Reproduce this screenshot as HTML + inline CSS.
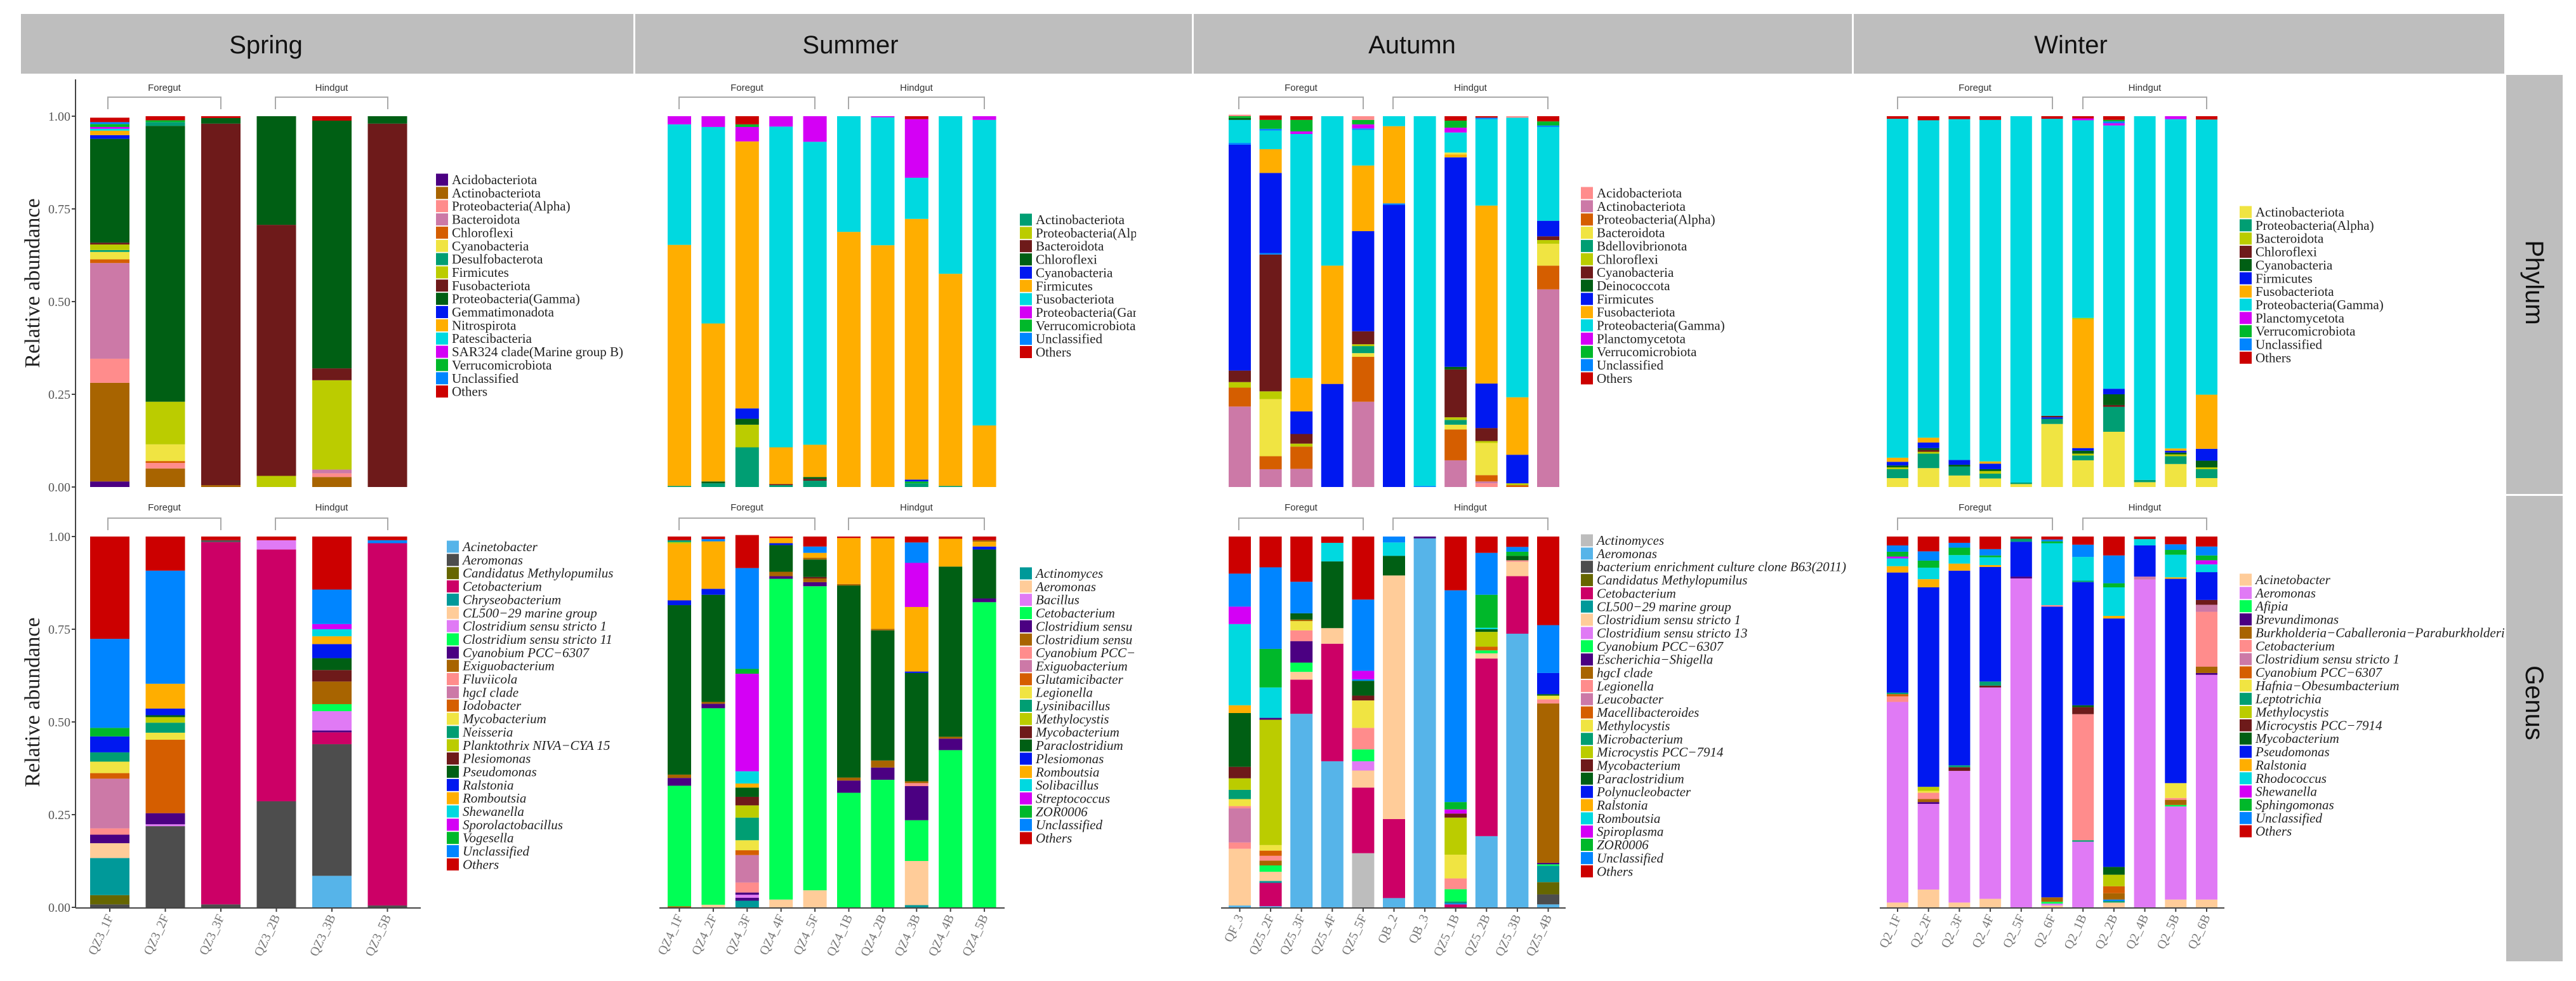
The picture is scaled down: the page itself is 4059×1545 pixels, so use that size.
<!DOCTYPE html>
<html><head><meta charset="utf-8"><style>
body{margin:0;background:#fff}
svg{display:block}
</style></head><body>
<svg id="c" width="4059" height="1545" viewBox="0 0 4059 1545" xmlns="http://www.w3.org/2000/svg">
<defs>
<clipPath id="clipSummer"><rect x="1590" y="0" width="200" height="1545"/></clipPath>
<clipPath id="clipWinter"><rect x="3500" y="0" width="446" height="1545"/></clipPath>
</defs>
<g>
<rect x="33" y="22" width="965" height="94" fill="#bebebe"/>
<text x="419" y="84" font-family="Liberation Sans, sans-serif" font-size="40" text-anchor="middle" fill="#111">Spring</text>
<rect x="1001" y="22" width="877" height="94" fill="#bebebe"/>
<text x="1340" y="84" font-family="Liberation Sans, sans-serif" font-size="40" text-anchor="middle" fill="#111">Summer</text>
<rect x="1881" y="22" width="1037" height="94" fill="#bebebe"/>
<text x="2225" y="84" font-family="Liberation Sans, sans-serif" font-size="40" text-anchor="middle" fill="#111">Autumn</text>
<rect x="2921" y="22" width="1025" height="94" fill="#bebebe"/>
<text x="3263" y="84" font-family="Liberation Sans, sans-serif" font-size="40" text-anchor="middle" fill="#111">Winter</text>
</g>
<g>
<rect x="3949" y="118" width="89" height="660" fill="#bebebe"/>
<text transform="translate(3980,445) rotate(90)" font-family="Liberation Sans, sans-serif" font-size="40" text-anchor="middle" fill="#111">Phylum</text>
<rect x="3949" y="781" width="89" height="733" fill="#bebebe"/>
<text transform="translate(3980,1107) rotate(90)" font-family="Liberation Sans, sans-serif" font-size="40" text-anchor="middle" fill="#111">Genus</text>
</g>
<g>
<line x1="119" y1="125" x2="119" y2="1430" stroke="#444" stroke-width="2"/>
<text transform="translate(62,446) rotate(-90)" font-family="Liberation Serif, serif" font-size="34" text-anchor="middle" fill="#222">Relative abundance</text>
<text transform="translate(62,1106) rotate(-90)" font-family="Liberation Serif, serif" font-size="34" text-anchor="middle" fill="#222">Relative abundance</text>
</g>
<g id="plot"></g>
</svg>
<script>
// ---------- tick data ----------
const tickValues = [0, 0.25, 0.5, 0.75, 1];
const tickLabels = ["0.00", "0.25", "0.50", "0.75", "1.00"];

// ---------- Spring ----------
const springSamples = ["QZ3_1F","QZ3_2F","QZ3_3F","QZ3_2B","QZ3_3B","QZ3_5B"];
const springPhylumTaxa = ["Acidobacteriota","Actinobacteriota","Proteobacteria(Alpha)","Bacteroidota","Chloroflexi","Cyanobacteria","Desulfobacterota","Firmicutes","Fusobacteriota","Proteobacteria(Gamma)","Gemmatimonadota","Nitrospirota","Patescibacteria","SAR324 clade(Marine group B)","Verrucomicrobiota","Unclassified","Others"];
const springPhylumColors = ["#4B0082","#A86400","#FF8C8C","#CC79A7","#D55E00","#F0E442","#009E73","#BBCC00","#6E1A1A","#005F14","#0018F0","#FFAE00","#00D9E0","#D400F5","#00B82A","#0085FF","#CC0000"];
const springPhylumBars = [
 [["Acido",.015],["Actino",.266],["Alpha",.065],["Bacteroid",.258],["Chloro",.01],["Cyano",.02],["Desulfo",.005],["Firm",.015],["Fuso",.005],["Gamma",.28],["Gemmat",.01],["Nitro",.012],["Pates",.005],["SAR",.005],["Verru",.008],["Unclass",.005],["Others",.012]],
 [["Actino",.05],["Alpha",.015],["Chloro",.005],["Cyano",.045],["Firm",.115],["Gamma",.744],["Desulfo",.01],["Verru",.005],["Others",.011]],
 [["Actino",.005],["Fuso",.975],["Gamma",.015],["Others",.005]],
 [["Firm",.03],["Fuso",.677],["Gamma",.293]],
 [["Actino",.027],["Alpha",.01],["Bacteroid",.01],["Firm",.241],["Fuso",.032],["Gamma",.668],["Others",.012]],
 [["Fuso",.98],["Gamma",.02]]
];
const springGenusTaxa = ["Acinetobacter","Aeromonas","Candidatus Methylopumilus","Cetobacterium","Chryseobacterium","CL500\u221229 marine group","Clostridium sensu stricto 1","Clostridium sensu stricto 11","Cyanobium PCC\u22126307","Exiguobacterium","Fluviicola","hgcI clade","Iodobacter","Mycobacterium","Neisseria","Planktothrix NIVA\u2212CYA 15","Plesiomonas","Pseudomonas","Ralstonia","Romboutsia","Shewanella","Sporolactobacillus","Vogesella","Unclassified","Others"];
const springGenusColors = ["#56B4E9","#4D4D4D","#666600","#CC0066","#009999","#FFCC99","#E07AF5","#00FF55","#4B0082","#A86400","#FF8C8C","#CC79A7","#D55E00","#F0E442","#009E73","#BBCC00","#6E1A1A","#005F14","#0018F0","#FFAE00","#00D9E0","#D400F5","#00B82A","#0085FF","#CC0000"];
const springGenusBars = [
 [["Aero",.008],["Candidatus",.025],["Chryseo",.1],["CL500",.04],["Cyanob",.023],["Fluvi",.017],["hgcI",.134],["Iodo",.015],["Myco",.031],["Neisseria",.025],["Ralst",.043],["Voges",.023],["Unclass",.24],["Others",.276]],
 [["Aero",.219],["stricto 1",.005],["Cyanob",.03],["Iodo",.198],["Myco",.019],["Neisseria",.027],["Plankto",.015],["Pseudo",.005],["Ralst",.018],["Romb",.067],["Unclass",.305],["Others",.092]],
 [["Aero",.008],["Ceto",.977],["Aero",.005],["Others",.01]],
 [["Aero",.286],["Ceto",.679],["stricto 1",.025],["Others",.01]],
 [["Acin",.085],["Aero",.355],["Ceto",.032],["Cyanob",.005],["stricto 1",.052],["stricto 11",.019],["Exiguo",.061],["Plesio",.031],["Pseudo",.032],["Ralst",.038],["Romb",.021],["Shewan",.019],["Sporo",.014],["Unclass",.093],["Others",.143]],
 [["Aero",.005],["Ceto",.977],["Unclass",.008],["Others",.01]]
];

// ---------- Summer ----------
const summerSamples = ["QZ4_1F","QZ4_2F","QZ4_3F","QZ4_4F","QZ4_5F","QZ4_1B","QZ4_2B","QZ4_3B","QZ4_4B","QZ4_5B"];
const summerPhylumTaxa = ["Actinobacteriota","Proteobacteria(Alpha)","Bacteroidota","Chloroflexi","Cyanobacteria","Firmicutes","Fusobacteriota","Proteobacteria(Gamma)","Verrucomicrobiota","Unclassified","Others"];
const summerPhylumColors = ["#009E73","#BBCC00","#6E1A1A","#005F14","#0018F0","#FFAE00","#00D9E0","#D400F5","#00B82A","#0085FF","#CC0000"];
const summerPhylumBars = [
 [["Actino",.003],["Firm",.65],["Fuso",.325],["Gamma",.022]],
 [["Actino",.01],["Chloro",.005],["Firm",.426],["Fuso",.53],["Gamma",.029]],
 [["Actino",.107],["Alpha",.061],["Chloro",.016],["Cyano",.028],["Firm",.72],["Gamma",.039],["Verru",.007],["Others",.022]],
 [["Actino",.005],["Bacteroid",.003],["Firm",.099],["Fuso",.865],["Gamma",.028]],
 [["Actino",.017],["Bacteroid",.005],["Chloro",.005],["Firm",.087],["Fuso",.817],["Gamma",.069]],
 [["Firm",.688],["Fuso",.312]],
 [["Firm",.652],["Fuso",.345],["Gamma",.003]],
 [["Actino",.01],["Verru",.005],["Cyano",.005],["Firm",.703],["Fuso",.111],["Gamma",.158],["Others",.008]],
 [["Actino",.003],["Firm",.572],["Fuso",.425]],
 [["Firm",.166],["Fuso",.824],["Gamma",.01]]
];
const summerGenusTaxa = ["Actinomyces","Aeromonas","Bacillus","Cetobacterium","Clostridium sensu stricto 1","Clostridium sensu stricto 13","Cyanobium PCC\u22126307","Exiguobacterium","Glutamicibacter","Legionella","Lysinibacillus","Methylocystis","Mycobacterium","Paraclostridium","Plesiomonas","Romboutsia","Solibacillus","Streptococcus","ZOR0006","Unclassified","Others"];
const summerGenusColors = ["#009999","#FFCC99","#E07AF5","#00FF55","#4B0082","#A86400","#FF8C8C","#CC79A7","#D55E00","#F0E442","#009E73","#BBCC00","#6E1A1A","#005F14","#0018F0","#FFAE00","#00D9E0","#D400F5","#00B82A","#0085FF","#CC0000"];
const summerGenusBars = [
 [["stricto 13",.003],["Ceto",.325],["stricto 1",.021],["stricto 13",.009],["Paraclo",.457],["Plesio",.013],["Romb",.153],["Methylocystis",.004],["Lysini",.005],["Others",.01]],
 [["Aero",.007],["Ceto",.53],["stricto 1",.012],["stricto 13",.005],["Paraclo",.289],["Plesio",.016],["Romb",.128],["Unclass",.006],["Others",.007]],
 [["Actinomyces",.018],["stricto 1",.008],["Bacillus",.008],["stricto 1",.006],["Cyanob",.027],["Exiguo",.074],["Glutam",.013],["Legion",.027],["Lysini",.061],["Methylocystis",.033],["Myco",.023],["Paraclo",.025],["Romb",.011],["Solibac",.033],["Strepto",.263],["ZOR",.013],["Unclass",.272],["Others",.089]],
 [["Aero",.021],["Ceto",.865],["stricto 1",.007],["stricto 13",.012],["Paraclo",.072],["Plesio",.005],["Romb",.014],["Others",.004]],
 [["Aero",.046],["Ceto",.82],["stricto 1",.011],["stricto 13",.01],["Myco",.004],["Paraclo",.047],["stricto 13",.005],["Romb",.013],["Unclass",.017],["Others",.027]],
 [["Ceto",.309],["stricto 1",.033],["stricto 13",.008],["Paraclo",.518],["stricto 13",.004],["Romb",.124],["Others",.004]],
 [["Ceto",.344],["stricto 1",.033],["stricto 13",.019],["Paraclo",.351],["stricto 13",.004],["Romb",.244],["Others",.005]],
 [["Actinomyces",.006],["Aero",.119],["Ceto",.11],["stricto 1",.092],["Cyanob",.008],["stricto 13",.005],["Paraclo",.292],["Plesio",.004],["Romb",.174],["Strepto",.119],["Unclass",.055],["Others",.016]],
 [["Ceto",.424],["stricto 1",.031],["stricto 13",.005],["Paraclo",.459],["Romb",.075],["Others",.006]],
 [["Ceto",.823],["stricto 1",.01],["Paraclo",.132],["Plesio",.008],["Romb",.013],["stricto 13",.004],["Others",.01]]
];

// ---------- Autumn ----------
const autumnSamples = ["QF_3","QZ5_2F","QZ5_3F","QZ5_4F","QZ5_5F","QB_2","QB_3","QZ5_1B","QZ5_2B","QZ5_3B","QZ5_4B"];
const autumnPhylumTaxa = ["Acidobacteriota","Actinobacteriota","Proteobacteria(Alpha)","Bacteroidota","Bdellovibrionota","Chloroflexi","Cyanobacteria","Deinococcota","Firmicutes","Fusobacteriota","Proteobacteria(Gamma)","Planctomycetota","Verrucomicrobiota","Unclassified","Others"];
const autumnPhylumColors = ["#FF8C8C","#CC79A7","#D55E00","#F0E442","#009E73","#BBCC00","#6E1A1A","#005F14","#0018F0","#FFAE00","#00D9E0","#D400F5","#00B82A","#0085FF","#CC0000"];
const autumnPhylumBars = [
 [["Actino",.217],["Alpha",.051],["Chloro",.015],["Cyano",.031],["Firm",.609],["Unclass",.005],["Gamma",.062],["Deino",.005],["Verru",.005],["Acido",.004]],
 [["Actino",.048],["Alpha",.035],["Bacteroid",.154],["Chloro",.021],["Cyano",.369],["Unclass",.004],["Firm",.216],["Fuso",.064],["Gamma",.05],["Unclass",.005],["Verru",.024],["Others",.012]],
 [["Actino",.049],["Alpha",.06],["Chloro",.008],["Cyano",.026],["Firm",.061],["Fuso",.09],["Gamma",.658],["Plancto",.007],["Verru",.031],["Others",.01]],
 [["Firm",.278],["Fuso",.319],["Gamma",.403]],
 [["Actino",.23],["Alpha",.121],["Bacteroid",.01],["Bdello",.019],["Chloro",.005],["Cyano",.035],["Firm",.27],["Fuso",.177],["Gamma",.096],["Unclass",.004],["Plancto",.011],["Verru",.012],["Acido",.01]],
 [["Firm",.761],["Unclass",.004],["Fuso",.208],["Gamma",.027]],
 [["Unclass",.003],["Gamma",.997]],
 [["Actino",.072],["Alpha",.083],["Bacteroid",.013],["Bdello",.013],["Chloro",.007],["Cyano",.129],["Deino",.007],["Firm",.565],["Fuso",.008],["Bacteroid",.005],["Gamma",.054],["Plancto",.013],["Verru",.019],["Others",.012]],
 [["Acido",.01],["Actino",.005],["Alpha",.017],["Bacteroid",.087],["Chloro",.005],["Cyano",.035],["Firm",.12],["Fuso",.48],["Gamma",.233],["Unclass",.004],["Others",.004]],
 [["Alpha",.005],["Chloro",.005],["Firm",.077],["Fuso",.155],["Gamma",.754],["Acido",.004]],
 [["Actino",.533],["Alpha",.064],["Bacteroid",.059],["Chloro",.01],["Cyano",.01],["Firm",.042],["Gamma",.253],["Unclass",.004],["Verru",.011],["Others",.014]]
];
const autumnGenusTaxa = ["Actinomyces","Aeromonas","bacterium enrichment culture clone B63(2011)","Candidatus Methylopumilus","Cetobacterium","CL500\u221229 marine group","Clostridium sensu stricto 1","Clostridium sensu stricto 13","Cyanobium PCC\u22126307","Escherichia\u2212Shigella","hgcI clade","Legionella","Leucobacter","Macellibacteroides","Methylocystis","Microbacterium","Microcystis PCC\u22127914","Mycobacterium","Paraclostridium","Polynucleobacter","Ralstonia","Romboutsia","Spiroplasma","ZOR0006","Unclassified","Others"];
const autumnGenusColors = ["#BDBDBD","#56B4E9","#4D4D4D","#666600","#CC0066","#009999","#FFCC99","#E07AF5","#00FF55","#4B0082","#A86400","#FF8C8C","#CC79A7","#D55E00","#F0E442","#009E73","#BBCC00","#6E1A1A","#005F14","#0018F0","#FFAE00","#00D9E0","#D400F5","#00B82A","#0085FF","#CC0000"];
const autumnGenusBars = [
 [["Aero",.005],["stricto 1",.153],["Legion",.017],["Leuco",.092],["Legion",.006],["Methylocystis",.019],["Microbact",.025],["Microcys",.031],["Myco",.031],["Paraclo",.145],["Ralst",.021],["Romb",.219],["Spiro",.047],["Unclass",.089],["Others",.1]],
 [["Aero",.003],["Ceto",.063],["CL500",.005],["stricto 1",.025],["Cyanob",.017],["hgcI",.013],["Legion",.013],["Macell",.014],["Methylocystis",.015],["Microcys",.338],["Escher",.005],["Romb",.082],["ZOR",.104],["Unclass",.22],["Others",.083]],
 [["Aero",.522],["Ceto",.092],["stricto 1",.021],["Cyanob",.025],["Escher",.058],["Legion",.029],["Methylocystis",.025],["hgcI",.004],["Paraclo",.017],["Unclass",.085],["Others",.122]],
 [["Aero",.394],["Ceto",.317],["stricto 1",.042],["Paraclo",.18],["Romb",.05],["Others",.017]],
 [["Actinomyces",.146],["Ceto",.177],["stricto 1",.046],["stricto 13",.025],["Cyanob",.032],["Legion",.058],["Methylocystis",.074],["Myco",.013],["Paraclo",.04],["Unclass",.004],["Spiro",.023],["Unclass",.192],["Others",.17]],
 [["Aero",.025],["Ceto",.213],["stricto 1",.657],["Paraclo",.053],["Romb",.036],["Unclass",.016]],
 [["Aero",.995],["Escher",.005]],
 [["Ceto",.008],["Unclass",.003],["Microbact",.005],["Cyanob",.033],["Legion",.029],["Methylocystis",.064],["Microcys",.1],["Myco",.011],["Spiro",.011],["ZOR",.02],["Unclass",.571],["Others",.145]],
 [["Aero",.192],["Ceto",.479],["stricto 1",.014],["Cyanob",.008],["Macell",.01],["Microcys",.04],["Paraclo",.007],["Romb",.004],["ZOR",.089],["Unclass",.113],["Others",.044]],
 [["Aero",.738],["Ceto",.155],["stricto 1",.039],["Legion",.004],["Paraclo",.012],["ZOR",.011],["Unclass",.013],["Others",.028]],
 [["Aero",.008],["bacterium enrich",.027],["Candidatus",.033],["CL500",.044],["Cyanob",.004],["Escher",.004],["hgcI",.43],["Legion",.011],["Methylocystis",.01],["Paraclo",.004],["Polynucl",.057],["Unclass",.129],["Others",.239]]
];

// ---------- Winter ----------
const winterSamples = ["Q2_1F","Q2_2F","Q2_3F","Q2_4F","Q2_5F","Q2_6F","Q2_1B","Q2_2B","Q2_4B","Q2_5B","Q2_6B"];
const winterPhylumTaxa = ["Actinobacteriota","Proteobacteria(Alpha)","Bacteroidota","Chloroflexi","Cyanobacteria","Firmicutes","Fusobacteriota","Proteobacteria(Gamma)","Planctomycetota","Verrucomicrobiota","Unclassified","Others"];
const winterPhylumColors = ["#F0E442","#009E73","#BBCC00","#6E1A1A","#005F14","#0018F0","#FFAE00","#00D9E0","#D400F5","#00B82A","#0085FF","#CC0000"];
const winterPhylumBars = [
 [["Actino",.024],["Alpha",.024],["Bacteroid",.005],["Cyano",.005],["Firm",.01],["Fuso",.011],["Gamma",.914],["Others",.007]],
 [["Actino",.051],["Alpha",.039],["Bacteroid",.005],["Chloro",.005],["Cyano",.005],["Firm",.015],["Fuso",.013],["Gamma",.856],["Others",.011]],
 [["Actino",.031],["Alpha",.024],["Cyano",.005],["Firm",.013],["Gamma",.919],["Others",.008]],
 [["Actino",.023],["Alpha",.013],["Bacteroid",.007],["Cyano",.005],["Firm",.015],["Fuso",.006],["Gamma",.921],["Others",.01]],
 [["Actino",.008],["Alpha",.004],["Gamma",.988]],
 [["Actino",.17],["Alpha",.014],["Firm",.004],["Chloro",.004],["Gamma",.801],["Others",.007]],
 [["Actino",.072],["Alpha",.013],["Bacteroid",.005],["Cyano",.008],["Firm",.007],["Fuso",.347],["Bacteroid",.004],["Gamma",.533],["Plancto",.005],["Others",.006]],
 [["Actino",.149],["Alpha",.067],["Chloro",.005],["Cyano",.029],["Firm",.015],["Gamma",.71],["Plancto",.006],["Unclass",.005],["Verru",.004],["Others",.01]],
 [["Actino",.013],["Alpha",.006],["Gamma",.981]],
 [["Actino",.062],["Alpha",.021],["Bacteroid",.005],["Cyano",.005],["Firm",.005],["Fuso",.006],["Gamma",.888],["Plancto",.008]],
 [["Actino",.024],["Alpha",.024],["Bacteroid",.005],["Cyano",.018],["Firm",.032],["Fuso",.146],["Gamma",.742],["Others",.009]]
];
const winterGenusTaxa = ["Acinetobacter","Aeromonas","Afipia","Brevundimonas","Burkholderia\u2212Caballeronia\u2212Paraburkholderia","Cetobacterium","Clostridium sensu stricto 1","Cyanobium PCC\u22126307","Hafnia\u2212Obesumbacterium","Leptotrichia","Methylocystis","Microcystis PCC\u22127914","Mycobacterium","Pseudomonas","Ralstonia","Rhodococcus","Shewanella","Sphingomonas","Unclassified","Others"];
const winterGenusColors = ["#FFCC99","#E07AF5","#00FF55","#4B0082","#A86400","#FF8C8C","#CC79A7","#D55E00","#F0E442","#009E73","#BBCC00","#6E1A1A","#005F14","#0018F0","#FFAE00","#00D9E0","#D400F5","#00B82A","#0085FF","#CC0000"];
const winterGenusBars = [
 [["Acin",.013],["Aero",.541],["Ceto",.015],["Cyanob",.006],["Leptot",.004],["Pseudo",.324],["Ralst",.017],["Rhodo",.021],["Shewan",.005],["Sphing",.013],["Unclass",.017],["Others",.024]],
 [["Acin",.048],["Aero",.231],["Brevun",.005],["Burkh",.008],["Ceto",.017],["Hafnia",.005],["Methylocystis",.011],["Pseudo",.538],["Ralst",.022],["Rhodo",.031],["Sphing",.019],["Unclass",.025],["Others",.04]],
 [["Acin",.013],["Aero",.355],["Microcys",.01],["Leptot",.005],["Pseudo",.525],["Ralst",.019],["Rhodo",.023],["Sphing",.02],["Unclass",.013],["Others",.017]],
 [["Acin",.023],["Aero",.57],["Microcys",.005],["Leptot",.011],["Pseudo",.309],["Ralst",.005],["Rhodo",.021],["Sphing",.005],["Unclass",.017],["Others",.034]],
 [["Aero",.887],["Brevun",.005],["Pseudo",.094],["Leptot",.008],["Others",.006]],
 [["Acin",.005],["Aero",.005],["Afipia",.005],["Burkh",.012],["Pseudo",.784],["Ceto",.004],["Rhodo",.167],["Sphing",.005],["Unclass",.005],["Others",.008]],
 [["Aero",.177],["Leptot",.004],["Ceto",.34],["Microcys",.019],["Myco",.005],["Pseudo",.332],["Leptot",.004],["Rhodo",.064],["Unclass",.033],["Others",.022]],
 [["Acin",.013],["Leptot",.004],["Unclass",.004],["Burkh",.017],["Cyanob",.019],["Methylocystis",.031],["Myco",.021],["Pseudo",.67],["Ralst",.007],["Rhodo",.077],["Sphing",.011],["Unclass",.075],["Others",.051]],
 [["Aero",.884],["Clostridium",.008],["Pseudo",.084],["Rhodo",.017],["Others",.007]],
 [["Acin",.021],["Aero",.251],["Afipia",.004],["Burkh",.014],["Ceto",.005],["Hafnia",.04],["Pseudo",.551],["Ralst",.004],["Rhodo",.061],["Sphing",.013],["Unclass",.015],["Others",.021]],
 [["Acin",.021],["Aero",.606],["Brevun",.005],["Burkh",.017],["Ceto",.148],["Clostridium",.019],["Microcys",.013],["Pseudo",.075],["Rhodo",.021],["Shewan",.011],["Sphing",.013],["Unclass",.024],["Others",.027]]
];

// ---------- layout (not data) ----------
const NS = "http://www.w3.org/2000/svg";
const plot = document.getElementById("plot");
const rows = { phylum: {y1: 183, y0: 767, brY: 153, brLab: 143}, genus: {y1: 845, y0: 1429, brY: 816, brLab: 804} };
function yScale(row, v) { return row.y0 - v * (row.y0 - row.y1); }
function mk(tag, attrs, parent) {
  const e = document.createElementNS(NS, tag);
  for (const k in attrs) e.setAttribute(k, attrs[k]);
  (parent || plot).appendChild(e);
  return e;
}
function findIdx(taxa, key) {
  for (let i = 0; i < taxa.length; i++) if (taxa[i] === key) return i;
  for (let i = 0; i < taxa.length; i++) if (taxa[i].includes(key)) return i;
  return taxa.length - 1;
}

const panels = [
 {id:"spring", samples: springSamples, x0: 142, step: 87.5, w: 62, axisX: [119, 663], nFore: 3,
  fore: [170, 348], hind: [434, 611], clip: null,
  phylum: {taxa: springPhylumTaxa, colors: springPhylumColors, bars: springPhylumBars, lx: 687, ly: 283},
  genus: {taxa: springGenusTaxa, colors: springGenusColors, bars: springGenusBars, lx: 704, ly: 861}},
 {id:"summer", samples: summerSamples, x0: 1052, step: 53.4, w: 37, axisX: [1039, 1583],
  fore: [1070, 1284], hind: [1337, 1551], clip: "url(#clipSummer)",
  phylum: {taxa: summerPhylumTaxa, colors: summerPhylumColors, bars: summerPhylumBars, lx: 1607, ly: 346},
  genus: {taxa: summerGenusTaxa, colors: summerGenusColors, bars: summerGenusBars, lx: 1607, ly: 903}},
 {id:"autumn", samples: autumnSamples, x0: 1936, step: 48.6, w: 35, axisX: [1924, 2467],
  fore: [1952, 2148], hind: [2195, 2439], clip: null,
  phylum: {taxa: autumnPhylumTaxa, colors: autumnPhylumColors, bars: autumnPhylumBars, lx: 2491, ly: 304},
  genus: {taxa: autumnGenusTaxa, colors: autumnGenusColors, bars: autumnGenusBars, lx: 2491, ly: 851}},
 {id:"winter", samples: winterSamples, x0: 2973, step: 48.7, w: 34, axisX: [2962, 3505],
  fore: [2990, 3234], hind: [3282, 3477], clip: "url(#clipWinter)",
  phylum: {taxa: winterPhylumTaxa, colors: winterPhylumColors, bars: winterPhylumBars, lx: 3529, ly: 334},
  genus: {taxa: winterGenusTaxa, colors: winterGenusColors, bars: winterGenusBars, lx: 3529, ly: 913}}
];

// ticks (spring only)
["phylum","genus"].forEach(function(rk){
  const row = rows[rk];
  tickValues.forEach(function(v, i){
    const y = yScale(row, v);
    const t = mk("line", {x1: 113, x2: 119, y1: y, y2: y, stroke: "#444", "stroke-width": 2});
    
    
    const lab = mk("text", {x: 111, y: y + 7, "text-anchor": "end", "font-family": "Liberation Serif, serif", "font-size": 20, fill: "#555"});
    lab.textContent = tickLabels[i];
    
    
  });
});

panels.forEach(function(p){
  ["phylum","genus"].forEach(function(rk){
    const row = rows[rk];
    const d = p[rk];
    const g = mk("g", {});
    
    
    // bars
    d.bars.forEach(function(segs, bi){
      const x = p.x0 + bi * p.step;
      let cum = 0;
      segs.forEach(function(s){
        const ci = findIdx(d.taxa, s[0]);
        const yTop = yScale(row, cum + s[1]);
        const yBot = yScale(row, cum);
        const r = mk("rect", {x: x, y: yTop, width: p.w, height: Math.max(0, yBot - yTop), fill: d.colors[ci]}, g);
        
        
        cum += s[1];
      });
    });
    // brackets
    [["Foregut", p.fore], ["Hindgut", p.hind]].forEach(function(b){
      const path = mk("path", {d: "M" + b[1][0] + "," + (row.brY + 19) + "V" + row.brY + "H" + b[1][1] + "V" + (row.brY + 19), fill: "none", stroke: "#aaa", "stroke-width": 2}, g);
      
      
      const t = mk("text", {x: (b[1][0] + b[1][1]) / 2, y: row.brLab, "text-anchor": "middle", "font-family": "Liberation Sans, sans-serif", "font-size": 15, fill: "#333"}, g);
      t.textContent = b[0];
      
      
    });
    // legend
    const lg = mk("g", {}, g);
    if (p.clip) lg.setAttribute("clip-path", p.clip);
    
    
    d.taxa.forEach(function(name, i){
      const cy = d.ly + i * 20.85;
      const sw = mk("rect", {x: d.lx, y: cy - 9.5, width: 19, height: 19, fill: d.colors[i]}, lg);
      
      
      const t = mk("text", {x: d.lx + 25, y: cy + 7, "font-family": "Liberation Serif, serif", "font-size": 21, fill: "#222"}, lg);
      if (rk === "genus") t.setAttribute("font-style", "italic");
      t.textContent = name;
      
      
    });
    // x axis and labels (genus row)
    if (rk === "genus") {
      const ax = mk("line", {x1: p.axisX[0], x2: p.axisX[1], y1: 1430, y2: 1430, stroke: "#444", "stroke-width": 2}, g);
      
      
      p.samples.forEach(function(s, i){
        const cx = p.x0 + i * p.step + p.w / 2;
        const tk = mk("line", {x1: cx, x2: cx, y1: 1430, y2: 1436, stroke: "#444", "stroke-width": 2}, g);
        
        
        const t = mk("text", {transform: "translate(" + (cx + 6) + ",1444) rotate(-65)", "text-anchor": "end", "font-family": "Liberation Serif, serif", "font-size": 20, fill: "#777"}, g);
        t.textContent = s;
        
        
      });
    }
  });
});
</script>
</body></html>
